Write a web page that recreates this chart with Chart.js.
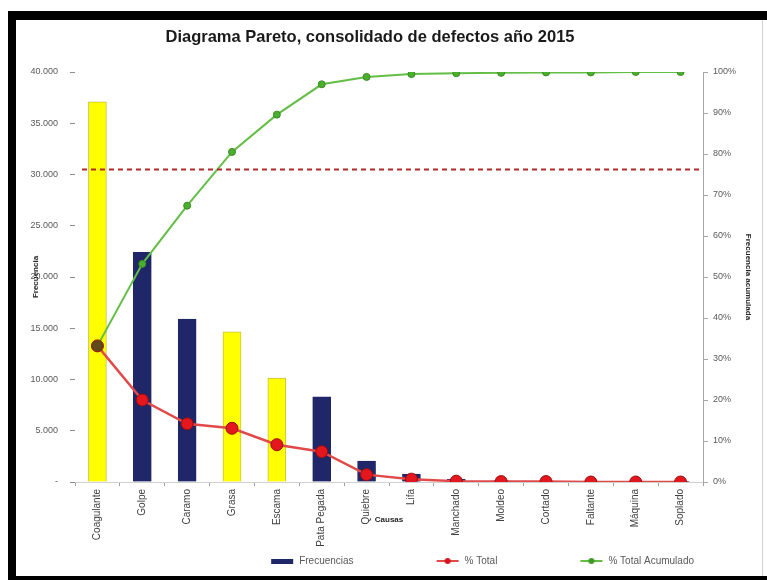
<!DOCTYPE html>
<html>
<head>
<meta charset="utf-8">
<script src="https://cdn.jsdelivr.net/npm/chart.js@4"></script>
<style>
  body { margin: 0; background: #fff; }
  .banda { position: absolute; background: #000; }
  #bTop { left: 8px; top: 11px; width: 759px; height: 9px; }
  #bLeft { left: 8px; top: 11px; width: 8px; height: 569px; }
  #bBottom { left: 8px; top: 576px; width: 759px; height: 4px; }
  #bRight { position: absolute; left: 762px; top: 20px; width: 1px; height: 556px; background: #d0d0d0; }
  #caja { position: absolute; left: 16px; top: 20px; width: 746px; height: 556px; }
</style>
</head>
<body>
<div class="banda" id="bTop"></div>
<div class="banda" id="bLeft"></div>
<div class="banda" id="bBottom"></div>
<div id="bRight"></div>
<div id="caja"><canvas id="pareto" width="746" height="556"></canvas></div>

<script>
const causas = ["Coagulante", "Golpe", "Caramo", "Grasa", "Escama", "Pata Pegada", "Quiebre",
                "Lifa", "Manchado", "Moldeo", "Cortado", "Faltante", "Máquina", "Soplado"];
const frecuencias = [37100, 22400, 15900, 14650, 10150, 8300, 2050, 780, 260, 110, 70, 50, 40, 30];
const pctTotal = [33.2, 20.0, 14.2, 13.1, 9.1, 7.4, 1.8, 0.7, 0.2, 0.1, 0.1, 0.0, 0.0, 0.0];
const pctAcumulado = [33.2, 53.2, 67.4, 80.5, 89.6, 97.0, 98.8, 99.5, 99.7, 99.8, 99.9, 99.9, 100, 100];
const ticksFrecuencia = [0, 5000, 10000, 15000, 20000, 25000, 30000, 35000, 40000];
const ticksPorcentaje = [0, 10, 20, 30, 40, 50, 60, 70, 80, 90, 100];
const valorCorte = 30500;

const AMARILLO = "#FFFF00";
const AZUL = "#1F2768";
const coloresBarras = [AMARILLO, AZUL, AZUL, AMARILLO, AMARILLO, AZUL, AZUL, AZUL, AZUL, AZUL, AZUL, AZUL, AZUL, AZUL];
const bordesBarras = coloresBarras.map(c => c === AMARILLO ? "#C8C040" : AZUL);

Chart.defaults.font.family = '"Liberation Sans", Arial, sans-serif';

function miles(v) {
    if (v === 0) return "-";
    return String(v).replace(/\B(?=(\d{3})+(?!\d))/g, ".");
}

// iconos de la leyenda: la parte visible queda pegada al texto
const ANCHO_ICONO = 97;
function iconoBarra(color) {
    const c = document.createElement("canvas");
    c.width = ANCHO_ICONO; c.height = 10;
    const g = c.getContext("2d");
    g.fillStyle = color;
    g.fillRect(ANCHO_ICONO - 23, 3, 22, 5);
    return c;
}
function iconoLinea(color, relleno, radio) {
    const c = document.createElement("canvas");
    c.width = ANCHO_ICONO; c.height = 10;
    const g = c.getContext("2d");
    g.strokeStyle = color; g.lineWidth = 2;
    g.beginPath(); g.moveTo(ANCHO_ICONO - 23, 5); g.lineTo(ANCHO_ICONO - 1, 5); g.stroke();
    g.fillStyle = relleno;
    g.beginPath(); g.arc(ANCHO_ICONO - 12, 5, radio, 0, Math.PI * 2); g.fill();
    return c;
}
const iconos = [iconoBarra(AZUL), iconoLinea("#E24A4A", "#D8141C", 3), iconoLinea("#63BE45", "#3F9A25", 3)];

const lineaCorte = {
    id: "lineaCorte",
    afterLayout(chart) {
        // el título va un poco a la izquierda del centro
        chart.titleBlock.left -= 19;
        chart.titleBlock.right -= 19;
    },
    afterDatasetsDraw(chart) {
        const {ctx, chartArea, scales} = chart;
        const y = scales.y.getPixelForValue(valorCorte);
        ctx.save();
        ctx.strokeStyle = "#B02A2A";
        ctx.lineWidth = 2;
        ctx.setLineDash([5, 4]);
        ctx.beginPath();
        ctx.moveTo(chartArea.left + 7, y);
        ctx.lineTo(chartArea.right, y);
        ctx.stroke();
        ctx.restore();
    }
};

new Chart(document.getElementById("pareto"), {
    data: {
        labels: causas,
        datasets: [{
            type: "bar",
            label: "Frecuencias",
            data: frecuencias,
            yAxisID: "y",
            backgroundColor: coloresBarras,
            borderColor: bordesBarras,
            borderWidth: 1,
            barThickness: 18,
            order: 3
        }, {
            type: "line",
            label: "% Total",
            data: pctTotal,
            yAxisID: "y1",
            borderColor: "#E24A4A",
            borderWidth: 2.5,
            pointRadius: 6,
            pointBackgroundColor: ctx => ctx.dataIndex === 0 ? "#5E4A1A" : "#E3171D",
            pointBorderColor: "#9A0C0C",
            pointBorderWidth: 1,
            order: 1
        }, {
            type: "line",
            label: "% Total Acumulado",
            data: pctAcumulado,
            yAxisID: "y1",
            borderColor: "#63BE45",
            borderWidth: 2,
            pointRadius: 3.5,
            pointBackgroundColor: "#4BAF2E",
            pointBorderColor: "#3A8A22",
            pointBorderWidth: 1,
            order: 2
        }]
    },
    options: {
        responsive: false,
        animation: false,
        layout: { padding: 0 },
        plugins: {
            title: {
                display: true,
                text: "Diagrama Pareto, consolidado de defectos año 2015",
                color: "#1a1a1a",
                font: { size: 16.5, weight: "bold" },
                padding: { top: 8, bottom: 24.2 }
            },
            legend: {
                position: "bottom",
                align: "end",
                fullSize: false,
                labels: {
                    usePointStyle: true,
                    pointStyleWidth: ANCHO_ICONO,
                    padding: 9,
                    color: "#595959",
                    font: { size: 10 },
                    sort: (a, b) => a.datasetIndex - b.datasetIndex,
                    generateLabels(chart) {
                        const items = Chart.defaults.plugins.legend.labels.generateLabels(chart);
                        items.forEach(it => { it.pointStyle = iconos[it.datasetIndex]; });
                        return items;
                    }
                }
            },
            tooltip: { enabled: false }
        },
        scales: {
            x: {
                offset: true,
                afterFit: s => { s.height = 65; },
                border: { display: true, color: "#D0D0D0" },
                grid: { drawOnChartArea: false, drawTicks: true, tickLength: 4, color: "#A0A0A0", offset: true },
                ticks: { minRotation: 90, maxRotation: 90, autoSkip: false, padding: 3, color: "#404040", font: { size: 10 } },
                title: { display: true, text: "Causas", color: "#262626", font: { size: 8, weight: "bold" }, padding: { top: 0, bottom: 22 } }
            },
            y: {
                position: "left",
                min: 0,
                max: 40000,
                afterFit: s => { s.width = 59; },
                afterBuildTicks: s => { s.ticks = ticksFrecuencia.map(v => ({ value: v })); },
                border: { display: false },
                grid: { drawOnChartArea: false, drawTicks: true, tickLength: 5, color: "#8C8C8C" },
                ticks: { padding: 12, color: "#595959", font: { size: 9 }, callback: v => miles(v) },
                title: { display: true, text: "Frecuencia", color: "#262626", font: { size: 8, weight: "bold" }, padding: { top: 15, bottom: 0 } }
            },
            y1: {
                position: "right",
                min: 0,
                max: 100,
                afterFit: s => { s.width = 59; },
                afterBuildTicks: s => { s.ticks = ticksPorcentaje.map(v => ({ value: v })); },
                border: { display: true, color: "#A6A6A6" },
                grid: { drawOnChartArea: false, drawTicks: true, tickLength: 5, color: "#A6A6A6" },
                ticks: { padding: 5, color: "#595959", font: { size: 9 }, callback: v => v + "%" },
                title: { display: true, text: "Frecuencia acumulada", color: "#262626", font: { size: 8, weight: "bold" }, padding: { top: 9, bottom: 0 } }
            }
        }
    },
    plugins: [lineaCorte]
});
</script>
</body>
</html>
